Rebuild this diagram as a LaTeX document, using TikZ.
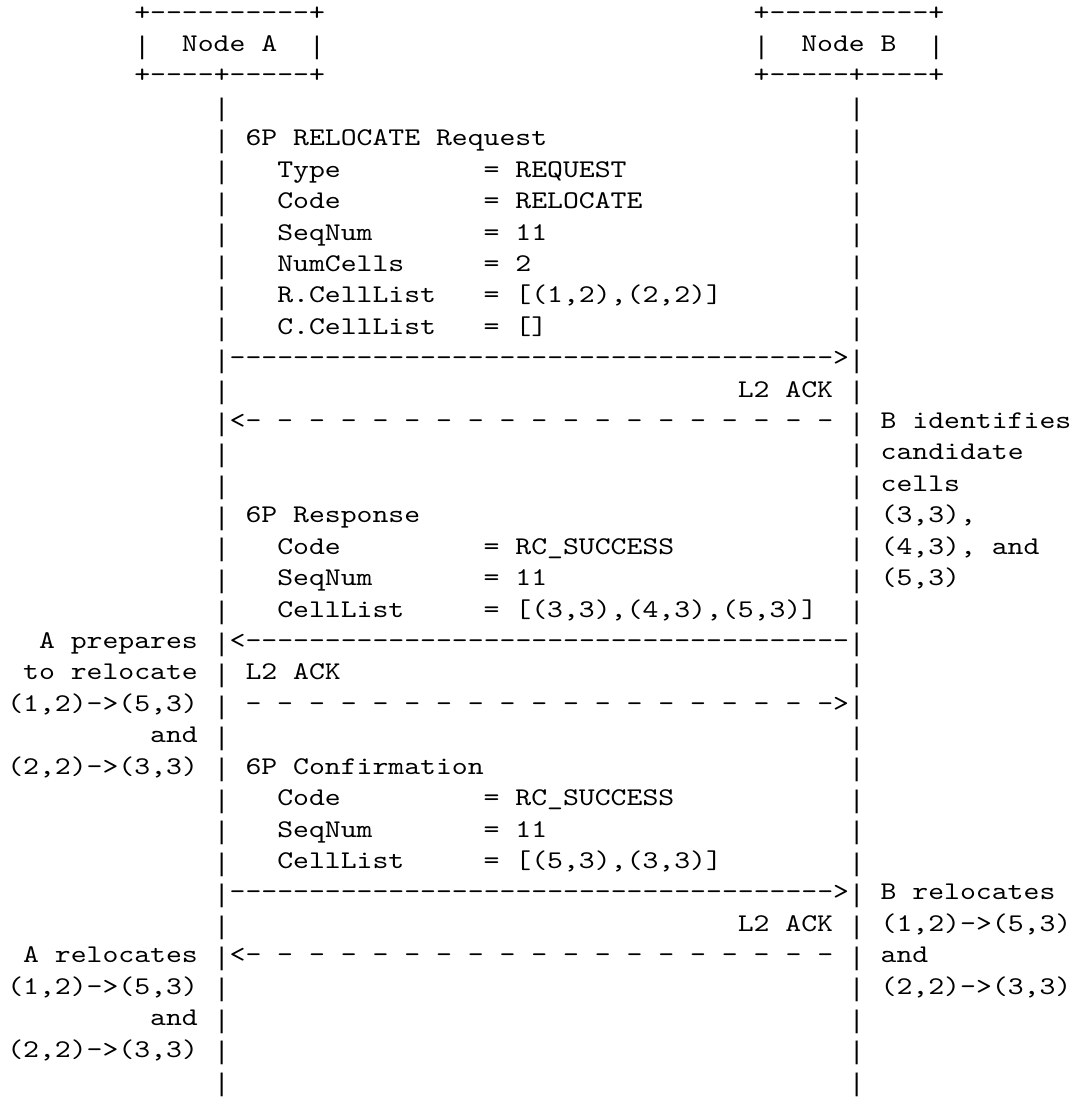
\documentclass[tikz,border=0pt]{standalone}
\usepackage{fontspec}
\setmonofont{lmmono10-regular.otf}[FakeStretch=1.188]
\newfontfamily\barfont{Liberation Mono}
\newcommand\asc[4]{\node[txt] (#1) at ({5.475pt+#2*11.91pt},{-15pt-(#3-1)*23.571pt}) {#4};}
\newcommand\vbar[3]{\node[barchar] (#1) at ({5.475pt+(#2+0.5)*11.91pt},{-15pt-(#3-1)*23.571pt}) {|};}
\begin{document}
\begin{tikzpicture}[txt/.style={anchor=base west,inner sep=0pt,outer sep=0pt,font=\ttfamily\fontsize{19.1pt}{23.57pt}\selectfont},
barchar/.style={anchor=base,inner sep=0pt,outer sep=0pt,yshift=-2pt,font=\barfont\fontsize{19.1pt}{23.57pt}\selectfont}]
\useasboundingbox[fill=white] (0pt,0pt) rectangle (804pt,-825pt);
% boxes
\asc{atop}{8}{1}{+----------+}
\asc{btop}{47}{1}{+----------+}
\vbar{al}{8}{2}\asc{aname}{11}{2}{Node A}\vbar{ar}{19}{2}
\vbar{bl}{47}{2}\asc{bname}{50}{2}{Node B}\vbar{br}{58}{2}
\asc{abot}{8}{3}{+----+-----+}
\asc{bbot}{47}{3}{+-----+----+}
% lifelines
\foreach \r in {4,...,35}{\vbar{la\r}{13}{\r}\vbar{lb\r}{53}{\r}}
% request
\asc{req}{15}{5}{6P RELOCATE Request}
\asc{k6}{17}{6}{Type}\asc{v6}{30}{6}{= REQUEST}
\asc{k7}{17}{7}{Code}\asc{v7}{30}{7}{= RELOCATE}
\asc{k8}{17}{8}{SeqNum}\asc{v8}{30}{8}{= 11}
\asc{k9}{17}{9}{NumCells}\asc{v9}{30}{9}{= 2}
\asc{k10}{17}{10}{R.CellList}\asc{v10}{30}{10}{= [(1,2),(2,2)]}
\asc{k11}{17}{11}{C.CellList}\asc{v11}{30}{11}{= []}
\asc{m12}{14}{12}{-------------------------------------->}
\asc{ack13}{46}{13}{L2 ACK}
\asc{m14}{14}{14}{<- - - - - - - - - - - - - - - - - - -}
\asc{n14}{55}{14}{B identifies}
\asc{n15}{55}{15}{candidate}
\asc{n16}{55}{16}{cells}
% response
\asc{resp}{15}{17}{6P Response}\asc{n17}{55}{17}{(3,3),}
\asc{k18}{17}{18}{Code}\asc{v18}{30}{18}{= RC\_SUCCESS}\asc{n18}{55}{18}{(4,3), and}
\asc{k19}{17}{19}{SeqNum}\asc{v19}{30}{19}{= 11}\asc{n19}{55}{19}{(5,3)}
\asc{k20}{17}{20}{CellList}\asc{v20}{30}{20}{= [(3,3),(4,3),(5,3)]}
\asc{p21}{2}{21}{A prepares}\asc{m21}{14}{21}{<--------------------------------------}
\asc{p22}{1}{22}{to relocate}\asc{ack22}{15}{22}{L2 ACK}
\asc{p23}{0}{23}{(1,2)->(5,3)}\asc{m23}{15}{23}{- - - - - - - - - - - - - - - - - - ->}
\asc{p24}{9}{24}{and}
\asc{p25}{0}{25}{(2,2)->(3,3)}
% confirmation
\asc{conf}{15}{25}{6P Confirmation}
\asc{k26}{17}{26}{Code}\asc{v26}{30}{26}{= RC\_SUCCESS}
\asc{k27}{17}{27}{SeqNum}\asc{v27}{30}{27}{= 11}
\asc{k28}{17}{28}{CellList}\asc{v28}{30}{28}{= [(5,3),(3,3)]}
\asc{m29}{14}{29}{-------------------------------------->}\asc{n29}{55}{29}{B relocates}
\asc{ack30}{46}{30}{L2 ACK}\asc{n30}{55}{30}{(1,2)->(5,3)}
\asc{p31}{1}{31}{A relocates}\asc{m31}{14}{31}{<- - - - - - - - - - - - - - - - - - -}\asc{n31}{55}{31}{and}
\asc{p32}{0}{32}{(1,2)->(5,3)}\asc{n32}{55}{32}{(2,2)->(3,3)}
\asc{p33}{9}{33}{and}
\asc{p34}{0}{34}{(2,2)->(3,3)}
\end{tikzpicture}
\end{document}
